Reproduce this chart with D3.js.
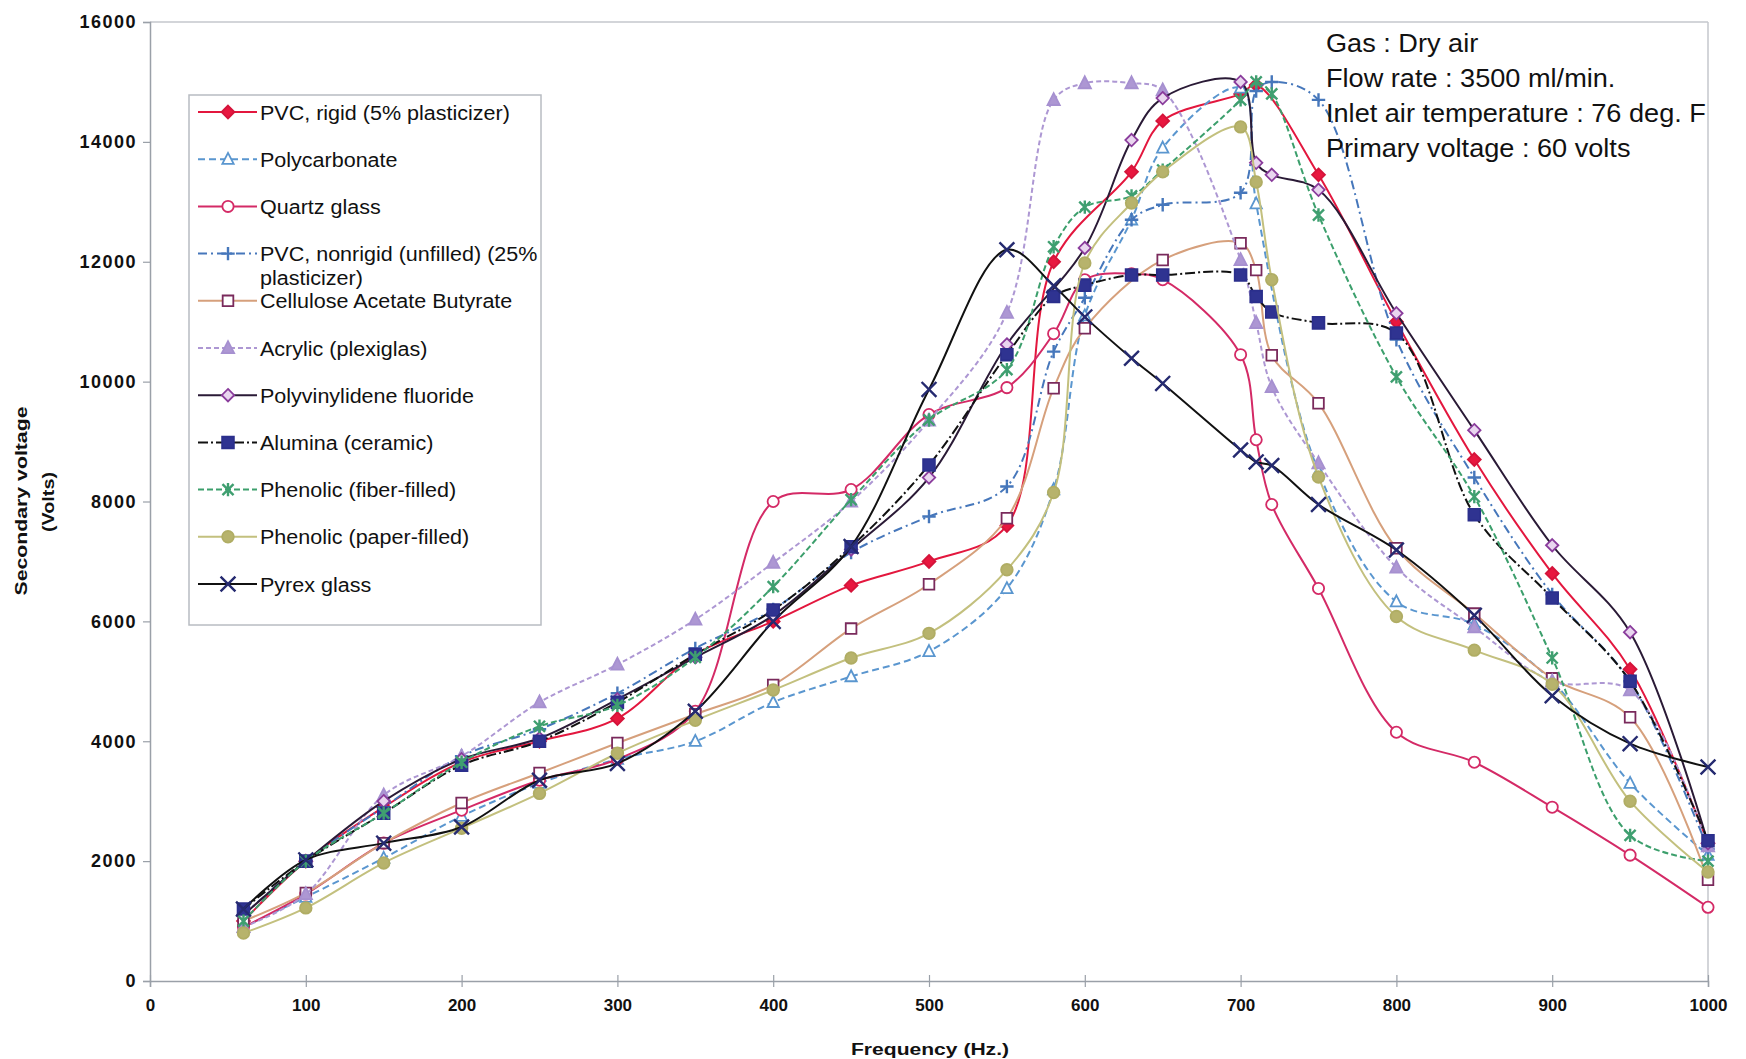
<!DOCTYPE html>
<html>
<head>
<meta charset="utf-8">
<script src="https://cdn.jsdelivr.net/npm/d3@7"></script>
<style>
  html, body { margin: 0; padding: 0; background: #fff; }
  svg { display: block; font-family: "Liberation Sans", Arial, sans-serif; }
</style>
</head>
<body>
<svg id="chart" width="1746" height="1059"></svg>
<script>
// ---------------- DATA ----------------
const freq = [60,100,150,200,250,300,350,400,450,500,550,580,600,630,650,700,710,720,750,800,850,900,950,1000];

const seriesNames = [
  "PVC, rigid (5% plasticizer)",
  "Polycarbonate",
  "Quartz glass",
  "PVC, nonrigid (unfilled) (25%|plasticizer)",
  "Cellulose Acetate Butyrate",
  "Acrylic (plexiglas)",
  "Polyvinylidene fluoride",
  "Alumina (ceramic)",
  "Phenolic (fiber-filled)",
  "Phenolic (paper-filled)",
  "Pyrex glass"
];

const pvcRigid      = [1000,2000,2900,3650,4000,4380,5450,6000,6600,7000,7600,12000,null,13500,14350,14800,14950,null,13450,11000,8700,6800,5200,2300];
const polycarbonate = [900,1400,2050,2750,3300,3700,4000,4650,5080,5500,6550,8200,11100,12700,13900,14900,12970,null,8500,6330,5950,5000,3300,2100];
const quartzGlass   = [900,1450,2300,2850,3350,3700,4500,8000,8200,9450,9900,10800,11700,11800,11700,10450,9030,7950,6550,4150,3650,2900,2100,1230];
const pvcNonrigid   = [1100,2000,2900,3750,4200,4800,5550,6200,7150,7750,8250,10500,11400,12700,12950,13150,14850,15000,14700,10700,8400,6450,5000,2200];
const cab           = [1000,1470,2300,2970,3470,3970,4450,4940,5880,6620,7720,9890,10890,null,12030,12310,11860,10440,9640,7220,6130,5050,4400,1690];
const acrylic       = [900,1450,3100,3750,4650,5280,6030,6980,8000,9350,11150,14700,14980,14980,14860,12030,10980,9910,8640,6900,5900,5000,4850,2250];
const pvdf          = [1100,2000,3000,3700,4050,4700,5400,6100,7200,8400,10620,null,12230,14030,14730,15000,13650,13450,13200,11140,9190,7270,5820,2300];
const alumina       = [1200,2000,2800,3600,4000,4650,5450,6190,7245,8610,10450,11420,11610,11780,11780,11780,11420,11160,10980,10810,7780,6390,5000,2340];
const phenolicFiber = [1000,2000,2800,3650,4250,4600,5400,6580,8030,9360,10200,12250,12910,13100,13530,14700,15000,14800,12780,10080,8080,5390,2430,2000];
const phenolicPaper = [800,1220,1970,2550,3130,3800,4350,4855,5390,5800,6860,8150,11980,12980,13500,14250,13330,11700,8410,6080,5520,4950,3000,1820];
const pyrexGlass    = [1200,2020,2300,2570,3350,3630,4500,6000,7250,9870,12200,11600,11080,10390,9970,8860,8660,8600,7950,7190,6100,4760,3960,3570];

const seriesValues = [pvcRigid, polycarbonate, quartzGlass, pvcNonrigid, cab, acrylic, pvdf, alumina, phenolicFiber, phenolicPaper, pyrexGlass];

const xTicks = [0,100,200,300,400,500,600,700,800,900,1000];
const yTicks = [0,2000,4000,6000,8000,10000,12000,14000,16000];

const notes = ["Gas : Dry air", "Flow rate : 3500 ml/min.", "Inlet air temperature : 76 deg. F", "Primary voltage : 60 volts"];
const xTitle = "Frequency (Hz.)";
const yTitle = ["Secondary voltage", "(Volts)"];

// ---------------- STYLES ----------------
const styles = [
  {line:"#e3173e", dash:null,        sym:"diamond",  stroke:"#d4143a", fill:"#e8173f", size:150},
  {line:"#5a96cf", dash:"7,4",       sym:"triangle", stroke:"#5a96cf", fill:"#ffffff", size:120},
  {line:"#d42a66", dash:null,        sym:"circle",   stroke:"#d42a66", fill:"#ffffff", size:140},
  {line:"#4677bb", dash:"9,4,2,4",   sym:"plus",     stroke:"#4677bb", fill:"none",    size:180},
  {line:"#d6a07c", dash:null,        sym:"square",   stroke:"#7a2a5c", fill:"#ffffff", size:140},
  {line:"#ad97d3", dash:"5,3",       sym:"triangle", stroke:"#a690d0", fill:"#ad97d3", size:140},
  {line:"#2a1a36", dash:null,        sym:"diamond",  stroke:"#8a3c9c", fill:"#e9d6ef", size:140},
  {line:"#111111", dash:"10,3,2,3",  sym:"square",   stroke:"#2b2f8c", fill:"#2f3391", size:170},
  {line:"#3c9f6c", dash:"6,3",       sym:"star",     stroke:"#3f9f70", fill:"none",    size:170},
  {line:"#c3c07e", dash:null,        sym:"circle",   stroke:"#b0ad64", fill:"#b7b36c", size:150},
  {line:"#111111", dash:null,        sym:"x",        stroke:"#252a70", fill:"none",    size:220}
];

const symTypes = {
  diamond: {draw(c, s){const r=Math.sqrt(s)/2*1.05; c.moveTo(0,-r); c.lineTo(r,0); c.lineTo(0,r); c.lineTo(-r,0); c.closePath();}},
  triangle: {draw(c, s){const r=Math.sqrt(s)/2*1.15; c.moveTo(0,-r); c.lineTo(r*0.9,r*0.75); c.lineTo(-r*0.9,r*0.75); c.closePath();}},
  circle: {draw(c, s){const r=Math.sqrt(s)/2*0.95; c.moveTo(r,0); c.arc(0,0,r,0,2*Math.PI);}},
  square: {draw(c, s){const r=Math.sqrt(s)/2*0.9; c.rect(-r,-r,2*r,2*r);}},
  plus: {draw(c, s){const r=Math.sqrt(s)/2; c.moveTo(-r,0); c.lineTo(r,0); c.moveTo(0,-r); c.lineTo(0,r);}},
  x: {draw(c, s){const r=Math.sqrt(s)/2; c.moveTo(-r,-r); c.lineTo(r,r); c.moveTo(-r,r); c.lineTo(r,-r);}},
  star: {draw(c, s){const r=Math.sqrt(s)/2*0.85; c.moveTo(-r,-r); c.lineTo(r,r); c.moveTo(-r,r); c.lineTo(r,-r); c.moveTo(0,-r*1.2); c.lineTo(0,r*1.2);}}
};

// ---------------- LAYOUT ----------------
const svg = d3.select("#chart");
const pL = 150, pR = 1708, pT = 22, pB = 981;

const x = d3.scaleLinear().domain([0,1000]).range([pL, pR]);
const y = d3.scaleLinear().domain([0,16000]).range([pB, pT]);

// plot frame (light)
svg.append("line").attr("x1", pL).attr("x2", pR).attr("y1", pT).attr("y2", pT)
  .attr("stroke", "#c4c7cc").attr("stroke-width", 1.5);
svg.append("line").attr("x1", pR).attr("x2", pR).attr("y1", pT).attr("y2", pB)
  .attr("stroke", "#c4c7cc").attr("stroke-width", 1.5);

// axes
const yAxis = d3.axisLeft(y).tickValues(yTicks).tickSize(7).tickPadding(7).tickFormat(d3.format("d"));
const gy = svg.append("g").attr("transform", `translate(${pL},0)`).call(yAxis);
gy.select(".domain").attr("stroke", "#9aa0a8").attr("stroke-width", 1.5);
gy.selectAll(".tick line").attr("stroke", "#9aa0a8").attr("stroke-width", 1.2);
gy.selectAll(".tick text").attr("font-size", 18).attr("font-weight", "bold").attr("fill", "#111")
  .attr("letter-spacing", "1.5px").attr("x", -13);

const xAxis = d3.axisBottom(x).tickValues(xTicks).tickSize(6).tickPadding(24).tickFormat(d3.format("d"));
const gx = svg.append("g").attr("transform", `translate(0,${pB})`).call(xAxis);
gx.select(".domain").attr("stroke", "#9aa0a8").attr("stroke-width", 1.5);
gx.selectAll(".tick line").attr("stroke", "#9aa0a8").attr("stroke-width", 1.2).attr("y1", -6).attr("y2", 6);
gx.selectAll(".tick text").attr("font-size", 17).attr("font-weight", "bold").attr("fill", "#111").attr("dy", "0");

// axis titles
svg.append("text").attr("x", 930).attr("y", 1055)
  .attr("text-anchor", "middle").attr("font-size", 16).attr("font-weight", "bold")
  .attr("textLength", 158).attr("lengthAdjust", "spacingAndGlyphs").attr("fill", "#111")
  .text(xTitle);

svg.append("text").attr("transform", "translate(27,501) rotate(-90)")
  .attr("text-anchor", "middle").attr("font-size", 17).attr("font-weight", "bold").attr("fill", "#111")
  .attr("textLength", 189).attr("lengthAdjust", "spacingAndGlyphs").text(yTitle[0]);
svg.append("text").attr("transform", "translate(54,502) rotate(-90)")
  .attr("text-anchor", "middle").attr("font-size", 17).attr("font-weight", "bold").attr("fill", "#111")
  .attr("textLength", 60).attr("lengthAdjust", "spacingAndGlyphs").text(yTitle[1]);

// ---------------- SERIES ----------------
const lineGen = d3.line().x(d => x(d[0])).y(d => y(d[1])).curve(d3.curveCatmullRom.alpha(0.5));
const plotG = svg.append("g");

seriesValues.forEach((vals, i) => {
  const st = styles[i];
  const pts = freq.map((f, k) => [f, vals[k]]).filter(p => p[1] !== null);
  plotG.append("path").datum(pts).attr("d", lineGen)
    .attr("fill", "none").attr("stroke", st.line).attr("stroke-width", 2)
    .attr("stroke-dasharray", st.dash).attr("stroke-linejoin", "round");
  const sym = d3.symbol().type(symTypes[st.sym]).size(st.size);
  plotG.append("g").selectAll("path").data(pts).join("path")
    .attr("transform", d => `translate(${x(d[0])},${y(d[1])})`)
    .attr("d", sym)
    .attr("fill", st.fill).attr("stroke", st.stroke)
    .attr("stroke-width", (st.sym === "x" || st.sym === "plus" || st.sym === "star") ? 2.4 : 1.8);
});

// ---------------- LEGEND ----------------
const lg = svg.append("g");
lg.append("rect").attr("x", 189).attr("y", 95).attr("width", 352).attr("height", 530)
  .attr("fill", "#fff").attr("stroke", "#b8bcc2").attr("stroke-width", 1.5);

seriesNames.forEach((name, i) => {
  const st = styles[i];
  const cy = 112 + i * 47.2;
  lg.append("line").attr("x1", 198).attr("x2", 257).attr("y1", cy).attr("y2", cy)
    .attr("stroke", st.line).attr("stroke-width", 2).attr("stroke-dasharray", st.dash);
  lg.append("path").attr("transform", `translate(228,${cy})`)
    .attr("d", d3.symbol().type(symTypes[st.sym]).size(st.size)())
    .attr("fill", st.fill).attr("stroke", st.stroke)
    .attr("stroke-width", (st.sym === "x" || st.sym === "plus" || st.sym === "star") ? 2.4 : 1.8);
  const parts = name.split("|");
  parts.forEach((p, j) => {
    lg.append("text").attr("transform", `translate(260,${cy + 7.5 + j * 24}) scale(1.025,1)`)
      .attr("font-size", 21).attr("fill", "#111").text(p);
  });
});

// ---------------- NOTES ----------------
notes.forEach((t, i) => {
  svg.append("text").attr("transform", `translate(1326,${52 + i * 35}) scale(1.085,1)`)
    .attr("font-size", 25).attr("fill", "#111").text(t);
});
</script>
</body>
</html>
